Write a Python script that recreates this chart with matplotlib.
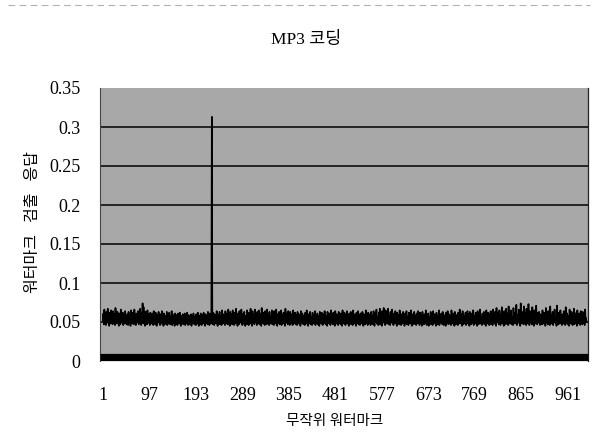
import numpy as np
import matplotlib
matplotlib.use("Agg")
import matplotlib.pyplot as plt
from matplotlib.lines import Line2D

plt.rcParams["font.family"] = ["Liberation Serif", "Noto Sans CJK KR", "DejaVu Sans"]

# ---------------- data (detection response, in 1/1000) ----------------
title = "MP3 코딩"
x_label = "무작위 워터마크"
y_label = "워터마크   검출   응답"

x_ticks = [1, 97, 193, 289, 385, 481, 577, 673, 769, 865, 961]
y_ticks = [0, 0.05, 0.1, 0.15, 0.2, 0.25, 0.3, 0.35]
y_tick_labels = ["0", "0.05", "0.1", "0.15", "0.2", "0.25", "0.3", "0.35"]

resp_milli = [
    52, 61, 47, 66, 50, 58, 46, 63, 54, 49, 67, 51, 57, 45, 62, 53, 48, 65, 50, 59, 47, 64, 55, 49, 60,
    46, 68, 52, 56, 48, 63, 50, 58, 45, 61, 54, 47, 66, 51, 57, 49, 62, 46, 59, 53, 48, 64, 50, 56, 47,
    60, 52, 46, 63, 55, 49, 58, 45, 65, 51, 57, 48, 62, 50, 47, 66, 53, 59, 46, 61, 49, 56, 52, 64, 47,
    58, 50, 67, 54, 46, 62, 51, 74, 48, 69, 53, 57, 45, 63, 50, 58, 47, 65, 52, 49, 60, 55, 46, 62, 51,
    57, 48, 61, 53, 46, 64, 50, 58, 47, 62, 52, 45, 59, 54, 49, 63, 51, 56, 46, 60, 53, 48, 64, 50, 57,
    45, 61, 52, 47, 58, 55, 49, 63, 46, 59, 51, 48, 62, 54, 47, 57, 50, 64, 46, 60, 53, 49, 58, 45, 61,
    52, 47, 59, 54, 46, 61, 50, 56, 48, 62, 51, 45, 58, 53, 49, 60, 47, 55, 52, 61, 46, 57, 50, 48, 62,
    54, 46, 59, 51, 47, 56, 53, 60, 45, 58, 50, 49, 61, 52, 47, 57, 54, 46, 60, 51, 48, 62, 53, 45, 58,
    50, 47, 61, 54, 46, 59, 52, 48, 62, 51, 56, 45, 60, 53, 49, 58, 47, 63, 50, 55, 46, 61, 52, 48, 59,
    313, 51, 47, 62, 54, 46, 60, 50, 57, 48, 64, 52, 45, 59, 55, 49, 63, 47, 58, 51, 46, 65, 53, 48, 60,
    50, 57, 46, 64, 52, 48, 61, 55, 47, 66, 51, 58, 45, 63, 53, 49, 60, 47, 65, 50, 56, 46, 62, 54, 48,
    67, 51, 59, 45, 61, 53, 47, 64, 50, 57, 49, 66, 52, 46, 60, 55, 48, 63, 51, 45, 58, 54, 47, 65, 50,
    59, 46, 62, 53, 48, 67, 51, 56, 45, 64, 52, 49, 60, 47, 66, 54, 50, 58, 46, 63, 51, 48, 65, 55, 47,
    61, 52, 45, 68, 50, 57, 48, 62, 53, 46, 64, 51, 59, 47, 66, 54, 49, 60, 46, 63, 52, 48, 57, 50, 65,
    47, 61, 53, 46, 64, 50, 58, 48, 66, 52, 45, 60, 55, 49, 63, 47, 57, 51, 65, 46, 59, 53, 48, 62, 50,
    56, 45, 67, 52, 49, 61, 54, 47, 64, 51, 58, 46, 63, 50, 48, 60, 55, 46, 65, 52, 57, 49, 62, 47, 59,
    51, 46, 63, 54, 48, 60, 52, 57, 45, 64, 50, 49, 61, 53, 47, 58, 55, 46, 62, 51, 48, 65, 52, 56, 45,
    60, 54, 49, 63, 47, 57, 50, 46, 62, 53, 48, 59, 51, 64, 46, 56, 52, 49, 61, 47, 58, 54, 45, 63, 50,
    57, 48, 62, 52, 46, 60, 55, 49, 64, 51, 47, 58, 53, 45, 63, 50, 56, 48, 61, 54, 46, 65, 52, 49, 59,
    47, 62, 51, 57, 45, 64, 53, 48, 60, 50, 55, 46, 63, 52, 49, 58, 47, 61, 54, 45, 65, 51, 57, 48, 62,
    53, 46, 59, 50, 64, 48, 56, 52, 45, 61, 54, 49, 63, 47, 58, 51, 46, 65, 53, 57, 48, 60, 50, 45, 62,
    55, 49, 64, 47, 59, 52, 46, 61, 51, 56, 48, 63, 54, 45, 60, 50, 58, 47, 65, 52, 49, 57, 46, 62, 53,
    48, 60, 51, 46, 63, 55, 49, 58, 47, 64, 52, 45, 61, 54, 50, 66, 48, 57, 53, 46, 62, 51, 67, 47, 59,
    55, 45, 64, 52, 49, 68, 50, 56, 46, 65, 53, 48, 61, 51, 67, 47, 58, 54, 46, 63, 50, 49, 66, 52, 57,
    46, 61, 53, 48, 64, 50, 57, 45, 62, 55, 49, 59, 47, 65, 51, 56, 46, 60, 53, 48, 63, 50, 58, 45, 61,
    54, 49, 64, 47, 57, 52, 46, 62, 50, 59, 48, 65, 53, 45, 60, 51, 56, 47, 63, 54, 49, 58, 46, 61, 52,
    48, 64, 50, 57, 46, 62, 53, 49, 59, 45, 63, 51, 56, 47, 60, 54, 48, 65, 52, 46, 58, 50, 61, 45, 57,
    53, 49, 63, 47, 59, 51, 46, 64, 55, 48, 60, 50, 56, 45, 62, 53, 47, 58, 51, 65, 46, 57, 52, 49, 61,
    54, 47, 63, 50, 46, 59, 52, 57, 45, 62, 55, 48, 64, 51, 47, 60, 53, 49, 58, 46, 65, 50, 56, 48, 61,
    54, 45, 63, 52, 47, 59, 51, 57, 46, 62, 53, 49, 66, 48, 55, 50, 60, 45, 64, 52, 47, 58, 54, 49, 62,
    46, 57, 51, 64, 48, 60, 53, 45, 63, 50, 56, 47, 61, 55, 49, 65, 46, 58, 52, 48, 62, 51, 57, 45, 64,
    54, 47, 59, 50, 66, 48, 56, 53, 46, 61, 52, 49, 63, 47, 58, 55, 45, 65, 51, 57, 48, 62, 53, 46, 60,
    50, 64, 47, 57, 53, 46, 66, 51, 59, 48, 63, 55, 45, 68, 52, 57, 49, 62, 47, 65, 54, 46, 60, 51, 69,
    48, 56, 53, 45, 64, 50, 58, 47, 67, 52, 49, 61, 46, 70, 54, 48, 59, 51, 65, 47, 57, 53, 46, 68, 50,
    62, 48, 56, 52, 72, 46, 59, 54, 49, 66, 51, 57, 45, 74, 53, 48, 63, 50, 58, 47, 70, 55, 49, 61, 46,
    67, 52, 57, 48, 73, 51, 46, 64, 54, 49, 60, 47, 69, 53, 58, 45, 65, 50, 56, 48, 71, 52, 47, 62, 55,
    49, 63, 51, 46, 60, 54, 58, 47, 65, 52, 48, 62, 50, 56, 45, 68, 53, 49, 61, 47, 64, 51, 57, 46, 70,
    54, 48, 59, 52, 63, 46, 57, 50, 66, 49, 55, 53, 45, 71, 51, 58, 47, 62, 54, 48, 65, 50, 56, 46, 60,
    53, 48, 64, 51, 57, 46, 69, 52, 49, 61, 47, 58, 55, 45, 66, 50, 56, 48, 63, 53, 46, 60, 51, 67, 47,
    57, 54, 49, 62, 45, 65, 52, 58, 48, 61, 50, 46, 64, 53, 56, 47, 63, 51, 49, 59, 46, 66, 52, 55, 50,
]

resp = np.array(resp_milli) / 1000.0
idx = np.arange(1, len(resp) + 1)

# ---------------- figure ----------------
fig = plt.figure(figsize=(5.95, 4.37), dpi=100)
ax = fig.add_axes([100 / 595, 1 - 361 / 437, 488 / 595, 273 / 437])
ax.set_facecolor("#a8a8a8")

ax.plot(idx, resp, color="black", lw=1.2, zorder=3)

ax.set_xlim(-5, 1003)
ax.set_ylim(0, 0.35)
ax.set_xticks(x_ticks)
ax.set_xticklabels([str(t) for t in x_ticks])
ax.set_yticks(y_ticks)
ax.set_yticklabels(y_tick_labels)

ax.yaxis.grid(True, color="black", lw=1.1, zorder=1)
ax.set_axisbelow(True)
ax.get_ygridlines()[-1].set_visible(False)

ax.tick_params(axis="x", length=0, pad=21, labelsize=13)
ax.tick_params(axis="y", length=0, pad=14, labelsize=13)

ax.spines["top"].set_visible(False)
ax.spines["left"].set_color("#444444")
ax.spines["left"].set_linewidth(0.8)
ax.spines["right"].set_color("#222222")
ax.spines["right"].set_linewidth(0.9)
ax.spines["bottom"].set_linewidth(5.2)
ax.spines["bottom"].set_capstyle("butt")
ax.spines["bottom"].set_position(("data", 0.0045))
ax.spines["bottom"].set_zorder(4)

fig.text(306 / 595, 1 - 40 / 437, title, ha="center", va="center", fontsize=12.5)
fig.text(335 / 595, 1 - 422 / 437, x_label, ha="center", va="center", fontsize=10.5)
fig.text(33 / 595, 1 - 222 / 437, y_label, ha="center", va="center",
         rotation=90, fontsize=11.5)

# faint scan border at the top
fig.add_artist(Line2D([8 / 595, 590 / 595], [1 - 5 / 437, 1 - 5 / 437],
                      color="#b0b0b0", lw=0.8, ls=(0, (6, 4))))

fig.savefig("out.png", dpi=100)
